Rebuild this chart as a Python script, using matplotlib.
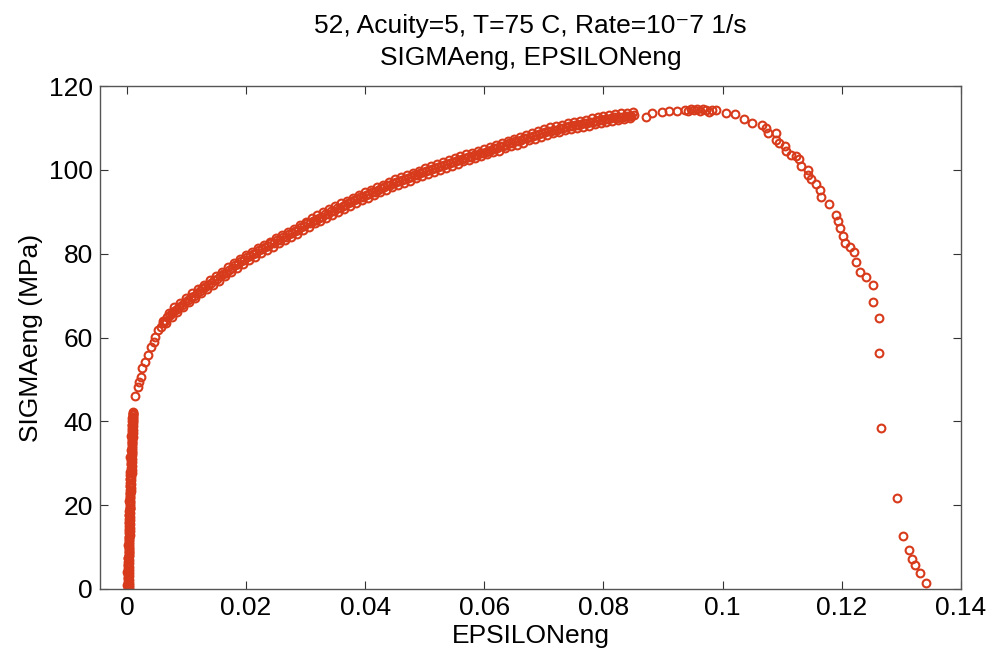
import numpy as np
import matplotlib
matplotlib.use("Agg")
import matplotlib.pyplot as plt

# --------------------------------------------------
# DATA
# --------------------------------------------------
# elastic rise (near-vertical column at eps ~ 0), three overlapping columns
eps_elastic = [0.0003, 0.0003, 0.0003, 0.0003, 0.0003, 0.0003, 0.0003, 0.0003, 0.0003, 0.0004,
               0.0004, 0.0004, 0.0004, 0.0004, 0.0004, 0.0004, 0.0004, 0.0005, 0.0005, 0.0005,
               0.0005, 0.0005, 0.0005, 0.0005, 0.0006, 0.0006, 0.0006, 0.0006, 0.0006, 0.0007,
               0.0007, 0.0007, 0.0007, 0.0007, 0.0008, 0.0008, 0.0008, 0.0008, 0.0008, 0.0009,
               0.0009, 0.0009, 0.0009, 0.0009, 0.0010, 0.0010, 0.0010, 0.0010, 0.0010, 0.0011,
               0.0011, 0.0011, 0.0011,
               0.0001, 0.0002, 0.0001, 0.0002, 0.0002, 0.0003, 0.0002, 0.0003, 0.0004, 0.0003,
               0.0004, 0.0005, 0.0004, 0.0005, 0.0006, 0.0005, 0.0006, 0.0007, 0.0006, 0.0007,
               0.0008, 0.0007, 0.0008, 0.0009, 0.0008, 0.0009, 0.0010,
               0.0002, 0.0002, 0.0002, 0.0002, 0.0002, 0.0002, 0.0002, 0.0002, 0.0002, 0.0002,
               0.0003, 0.0003, 0.0003, 0.0003, 0.0003, 0.0003, 0.0003, 0.0003, 0.0004, 0.0004,
               0.0004, 0.0004, 0.0004, 0.0005, 0.0005, 0.0005, 0.0005, 0.0005, 0.0006, 0.0006,
               0.0006, 0.0006, 0.0006, 0.0007, 0.0007, 0.0007, 0.0007, 0.0007, 0.0008, 0.0008,
               0.0008, 0.0008, 0.0008, 0.0009, 0.0009, 0.0009, 0.0009, 0.0010, 0.0010, 0.0010,
               0.0010]
sig_elastic = [0.0, 0.4, 0.9, 1.5, 2.2, 3.0, 3.7, 4.5, 5.3, 6.1,
               6.9, 7.8, 8.6, 9.5, 10.3, 11.2, 12.0, 12.9, 13.8, 14.6,
               15.5, 16.4, 17.2, 18.1, 19.0, 19.8, 20.7, 21.6, 22.4, 23.3,
               24.2, 25.0, 25.9, 26.8, 27.6, 28.5, 29.4, 30.2, 31.1, 32.0,
               32.8, 33.7, 34.6, 35.4, 36.3, 37.1, 38.0, 38.8, 39.6, 40.4,
               41.1, 41.7, 42.3,
               1.0, 2.6, 4.1, 5.8, 7.3, 8.9, 10.6, 12.4, 13.9, 15.8,
               17.6, 19.3, 21.0, 22.9, 24.6, 26.3, 28.0, 29.8, 31.5, 33.2,
               34.9, 36.6, 37.9, 39.2, 40.1, 40.9, 41.8,
               0.2, 1.2, 1.9, 2.6, 3.4, 4.1, 4.9, 5.7, 6.5, 7.4,
               8.2, 9.0, 9.9, 10.7, 11.6, 12.4, 13.3, 14.2, 15.0, 15.9,
               16.8, 17.6, 18.5, 19.4, 20.2, 21.1, 22.0, 22.8, 23.7, 24.6,
               25.4, 26.3, 27.2, 28.0, 28.9, 29.8, 30.6, 31.5, 32.4, 33.2,
               34.1, 35.0, 35.8, 36.7, 37.5, 38.4, 39.2, 40.0, 40.7, 41.4,
               42.0]

# strain hardening branch
eps_hardening = [0.0014, 0.0018, 0.0020, 0.0024, 0.0026, 0.0031, 0.0036, 0.0041, 0.0045, 0.0048,
                 0.0053, 0.0057, 0.0061, 0.0064, 0.0068, 0.0072, 0.0076, 0.0080, 0.0084, 0.0088,
                 0.0092, 0.0097, 0.0102, 0.0107, 0.0112, 0.0117, 0.0122, 0.0127, 0.0132, 0.0137,
                 0.0142, 0.0147, 0.0152, 0.0157, 0.0162, 0.0167, 0.0172, 0.0177, 0.0182, 0.0187,
                 0.0192, 0.0197, 0.0202, 0.0207, 0.0212, 0.0217, 0.0222, 0.0227, 0.0232, 0.0237,
                 0.0242, 0.0247, 0.0252, 0.0257, 0.0262, 0.0267, 0.0272, 0.0277, 0.0282, 0.0287,
                 0.0292, 0.0297, 0.0302, 0.0307, 0.0312, 0.0317, 0.0322, 0.0327, 0.0332, 0.0337,
                 0.0342, 0.0347, 0.0352, 0.0357, 0.0362, 0.0367, 0.0372, 0.0377, 0.0382, 0.0387,
                 0.0392, 0.0397, 0.0402, 0.0407, 0.0412, 0.0417, 0.0422, 0.0427, 0.0432, 0.0437,
                 0.0442, 0.0447, 0.0452, 0.0457, 0.0462, 0.0467, 0.0472, 0.0477, 0.0482, 0.0487,
                 0.0492, 0.0497, 0.0502, 0.0507, 0.0512, 0.0517, 0.0522, 0.0527, 0.0532, 0.0537,
                 0.0542, 0.0547, 0.0552, 0.0557, 0.0562, 0.0567, 0.0572, 0.0577, 0.0582, 0.0587,
                 0.0592, 0.0597, 0.0602, 0.0607, 0.0612, 0.0617, 0.0622, 0.0627, 0.0632, 0.0637,
                 0.0642, 0.0647, 0.0652, 0.0657, 0.0662, 0.0667, 0.0672, 0.0677, 0.0682, 0.0687,
                 0.0692, 0.0697, 0.0702, 0.0707, 0.0712, 0.0717, 0.0722, 0.0727, 0.0732, 0.0737,
                 0.0742, 0.0747, 0.0752, 0.0757, 0.0762, 0.0767, 0.0772, 0.0777, 0.0782, 0.0787,
                 0.0792, 0.0797, 0.0802, 0.0807, 0.0812, 0.0817, 0.0822, 0.0827, 0.0832, 0.0837,
                 0.0842, 0.0847, 0.0852, 0.0871, 0.0882, 0.0899, 0.0910, 0.0924, 0.0936, 0.0942,
                 0.0947, 0.0952, 0.0957, 0.0962, 0.0967, 0.0972, 0.0977, 0.0982, 0.0989]
sig_hardening = [46.1, 48.3, 49.5, 50.5, 52.7, 54.2, 55.8, 57.8, 59.0, 60.2,
                 61.7, 62.6, 63.4, 64.0, 64.8, 65.3, 65.9, 66.4, 66.9, 67.3,
                 67.8, 68.5, 68.9, 69.6, 70.0, 70.6, 71.0, 71.7, 72.0, 72.6,
                 73.0, 73.7, 74.0, 74.6, 75.2, 75.5, 76.2, 76.6, 77.2, 77.5,
                 78.2, 78.4, 79.2, 79.4, 80.0, 80.1, 80.8, 81.0, 81.6, 81.8,
                 82.5, 82.5, 83.2, 83.2, 83.9, 84.0, 84.7, 84.9, 85.5, 85.6,
                 86.4, 86.5, 87.2, 87.3, 87.9, 88.1, 88.6, 88.8, 89.4, 89.5,
                 90.1, 90.2, 90.8, 90.9, 91.4, 91.5, 92.1, 92.3, 92.7, 93.0,
                 93.4, 93.5, 94.1, 94.2, 94.7, 94.8, 95.2, 95.6, 95.8, 96.3,
                 96.3, 96.8, 97.0, 97.3, 97.6, 97.8, 98.1, 98.3, 98.7, 98.7,
                 99.3, 99.4, 99.7, 100.0, 100.1, 100.5, 100.6, 100.9, 101.2, 101.3,
                 101.7, 101.8, 102.1, 102.4, 102.5, 102.9, 103.0, 103.1, 103.5, 103.5,
                 103.9, 104.0, 104.3, 104.6, 104.7, 105.1, 105.2, 105.6, 105.7, 106.0,
                 106.3, 106.4, 106.8, 106.9, 107.2, 107.5, 107.6, 107.9, 108.1, 108.3,
                 108.6, 108.7, 109.0, 109.2, 109.3, 109.6, 109.6, 109.9, 110.0, 110.1,
                 110.4, 110.4, 110.7, 110.7, 110.9, 111.1, 111.1, 111.4, 111.5, 111.6,
                 111.9, 111.9, 112.1, 112.2, 112.3, 112.5, 112.4, 112.7, 112.6, 112.8,
                 112.9, 112.8, 113.0, 112.7, 113.5, 113.9, 114.1, 114.1, 114.3, 114.0,
                 114.4, 114.2, 114.5, 114.1, 114.4, 114.2, 113.9, 114.3, 114.2]

# upper and lower edges of the thick scatter band
eps_band_hi = [0.0060, 0.0070, 0.0080, 0.0090, 0.0100, 0.0110, 0.0120, 0.0130, 0.0140, 0.0150,
               0.0160, 0.0170, 0.0180, 0.0190, 0.0200, 0.0210, 0.0220, 0.0230, 0.0240, 0.0250,
               0.0260, 0.0270, 0.0280, 0.0290, 0.0300, 0.0310, 0.0320, 0.0330, 0.0340, 0.0350,
               0.0360, 0.0370, 0.0380, 0.0390, 0.0400, 0.0410, 0.0420, 0.0430, 0.0440, 0.0450,
               0.0460, 0.0470, 0.0480, 0.0490, 0.0500, 0.0510, 0.0520, 0.0530, 0.0540, 0.0550,
               0.0560, 0.0570, 0.0580, 0.0590, 0.0600, 0.0610, 0.0620, 0.0630, 0.0640, 0.0650,
               0.0660, 0.0670, 0.0680, 0.0690, 0.0700, 0.0710, 0.0720, 0.0730, 0.0740, 0.0750,
               0.0760, 0.0770, 0.0780, 0.0790, 0.0800, 0.0810, 0.0820, 0.0830, 0.0840, 0.0850]
sig_band_hi = [64.0, 65.9, 67.2, 68.3, 69.5, 70.6, 71.6, 72.6, 73.6, 74.6,
               75.7, 76.7, 77.7, 78.7, 79.7, 80.5, 81.3, 82.1, 82.9, 83.7,
               84.4, 85.2, 86.0, 86.8, 87.6, 88.4, 89.2, 89.9, 90.6, 91.3,
               92.0, 92.6, 93.3, 94.0, 94.6, 95.3, 95.9, 96.5, 97.1, 97.7,
               98.2, 98.7, 99.3, 99.8, 100.4, 100.8, 101.3, 101.8, 102.3, 102.8,
               103.3, 103.7, 104.1, 104.6, 105.0, 105.5, 106.0, 106.4, 106.9, 107.4,
               107.9, 108.3, 108.8, 109.2, 109.7, 110.1, 110.4, 110.8, 111.1, 111.4,
               111.6, 111.9, 112.3, 112.6, 112.8, 113.1, 113.3, 113.5, 113.6, 113.8]
eps_band_lo = [0.0065, 0.0075, 0.0085, 0.0095, 0.0105, 0.0115, 0.0125, 0.0135, 0.0145, 0.0155,
               0.0165, 0.0175, 0.0185, 0.0195, 0.0205, 0.0215, 0.0225, 0.0235, 0.0245, 0.0255,
               0.0265, 0.0275, 0.0285, 0.0295, 0.0305, 0.0315, 0.0325, 0.0335, 0.0345, 0.0355,
               0.0365, 0.0375, 0.0385, 0.0395, 0.0405, 0.0415, 0.0425, 0.0435, 0.0445, 0.0455,
               0.0465, 0.0475, 0.0485, 0.0495, 0.0505, 0.0515, 0.0525, 0.0535, 0.0545, 0.0555,
               0.0565, 0.0575, 0.0585, 0.0595, 0.0605, 0.0615, 0.0625, 0.0635, 0.0645, 0.0655,
               0.0665, 0.0675, 0.0685, 0.0695, 0.0705, 0.0715, 0.0725, 0.0735, 0.0745, 0.0755,
               0.0765, 0.0775, 0.0785, 0.0795, 0.0805, 0.0815, 0.0825, 0.0835, 0.0845]
sig_band_lo = [63.4, 65.0, 66.2, 67.3, 68.4, 69.5, 70.5, 71.5, 72.5, 73.5,
               74.6, 75.6, 76.6, 77.6, 78.5, 79.3, 80.1, 80.9, 81.7, 82.5,
               83.2, 84.0, 84.8, 85.6, 86.4, 87.2, 87.9, 88.6, 89.3, 90.0,
               90.7, 91.3, 92.0, 92.7, 93.3, 94.0, 94.6, 95.2, 95.8, 96.4,
               96.9, 97.4, 98.0, 98.5, 99.0, 99.5, 100.0, 100.5, 101.0, 101.5,
               102.0, 102.3, 102.8, 103.2, 103.7, 104.2, 104.6, 105.1, 105.6, 106.0,
               106.5, 107.0, 107.4, 107.9, 108.3, 108.7, 109.1, 109.4, 109.7, 110.0,
               110.2, 110.5, 110.9, 111.2, 111.4, 111.7, 111.9, 112.1, 112.3]

# necking / failure branch
eps_necking = [0.1006, 0.1020, 0.1036, 0.1050, 0.1066, 0.1073, 0.1076, 0.1089, 0.1090, 0.1095,
               0.1104, 0.1106, 0.1115, 0.1123, 0.1128, 0.1131, 0.1143, 0.1143, 0.1148, 0.1157,
               0.1163, 0.1165, 0.1178, 0.1190, 0.1193, 0.1197, 0.1202, 0.1206, 0.1213, 0.1220,
               0.1224, 0.1231, 0.1240, 0.1252, 0.1253, 0.1262, 0.1262, 0.1266, 0.1293, 0.1303,
               0.1313, 0.1317, 0.1322, 0.1332, 0.1341]
sig_necking = [113.5, 113.4, 112.2, 111.1, 110.6, 110.0, 108.8, 108.8, 107.2, 106.4,
               105.6, 104.4, 103.6, 103.2, 102.6, 100.8, 100.0, 98.8, 97.8, 96.6,
               95.2, 93.5, 91.8, 89.3, 87.8, 86.1, 84.3, 82.6, 81.7, 80.3,
               78.1, 75.7, 74.4, 72.6, 68.4, 64.7, 56.4, 38.4, 21.8, 12.6,
               9.3, 7.2, 5.7, 3.7, 1.4]

EPS = eps_elastic + eps_hardening + eps_band_hi + eps_band_lo + eps_necking
SIG = sig_elastic + sig_hardening + sig_band_hi + sig_band_lo + sig_necking

TITLE = "52, Acuity=5, T=75 C, Rate=10\u207b7 1/s\nSIGMAeng, EPSILONeng"

# --------------------------------------------------
# PLOT
# --------------------------------------------------
plt.rcParams["font.family"] = ["Liberation Sans", "DejaVu Sans"]
plt.rcParams["font.size"] = 19

fig = plt.figure(figsize=(9.92, 6.57), dpi=100)
ax = fig.add_axes([100 / 992, 1 - 589 / 657, 861 / 992, 503 / 657])

ax.plot(EPS, SIG, linestyle="none", marker="o", markersize=5.6,
        markerfacecolor="none", markeredgecolor="#D83B1C", markeredgewidth=1.5)

ax.set_xlim(-0.0045, 0.14)
ax.set_ylim(0, 120)
ax.set_xticks([0, 0.02, 0.04, 0.06, 0.08, 0.1, 0.12, 0.14])
ax.set_xticklabels(["0", "0.02", "0.04", "0.06", "0.08", "0.1", "0.12", "0.14"])
ax.set_yticks([0, 20, 40, 60, 80, 100, 120])

ax.tick_params(direction="in", length=6, width=0.8, top=True, right=True,
               pad=5, labelsize=19, color="#333333")
for s in ax.spines.values():
    s.set_color("#555555")
    s.set_linewidth(1.0)

ax.set_xlabel("EPSILONeng", fontsize=19, labelpad=3)
ax.set_ylabel("SIGMAeng (MPa)", fontsize=19, labelpad=4)
ax.set_title(TITLE, fontsize=19, pad=15, linespacing=1.42)

fig.savefig("out.png", dpi=100)
